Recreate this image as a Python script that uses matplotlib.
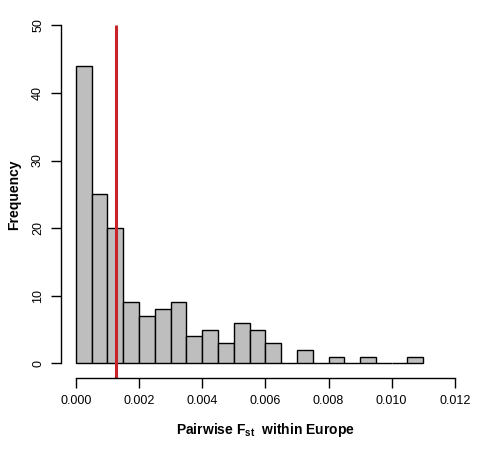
import numpy as np
import matplotlib
matplotlib.use('Agg')
import matplotlib.pyplot as plt

plt.rcParams['font.family'] = 'Liberation Sans'
plt.rcParams['mathtext.fontset'] = 'custom'
plt.rcParams['mathtext.bf'] = 'Liberation Sans:bold'
plt.rcParams['mathtext.rm'] = 'Liberation Sans'

# histogram of pairwise Fst, bins of 0.0005
bin_edges = np.arange(0, 0.0110001, 0.0005)
counts = [44, 25, 20, 9, 7, 8, 9, 4, 5, 3, 6, 5, 3, 0, 2, 0, 1, 0, 1, 0, 0, 1]
mean_fst = 0.00128
x_ticks = [0.000, 0.002, 0.004, 0.006, 0.008, 0.010, 0.012]
y_ticks = [0, 10, 20, 30, 40, 50]

fig = plt.figure(figsize=(4.86, 4.51), dpi=100)
W, H = 486, 451
# plot region in pixels
left, right, top, bottom = 60.7, 470.0, 10.7, 378.0
ax = fig.add_axes([left / W, 1 - bottom / H, (right - left) / W, (bottom - top) / H])

ax.hist(bin_edges[:-1], bins=bin_edges, weights=counts,
        color='#bebebe', edgecolor='black', linewidth=1.0)

ax.set_xlim(-0.00048, 0.01248)
ax.set_ylim(-2.17, 52.17)

ax.plot([mean_fst, mean_fst], [-2.17, 50], color='#c8242a', lw=2.2,
        clip_on=False, solid_capstyle='butt')

for s in ['top', 'right']:
    ax.spines[s].set_visible(False)
ax.spines['left'].set_bounds(0, 50)
ax.spines['bottom'].set_bounds(0, 0.012)
ax.spines['left'].set_linewidth(1.0)
ax.spines['bottom'].set_linewidth(1.0)

ax.set_xticks(x_ticks)
ax.set_xticklabels([f"{v:.3f}" for v in x_ticks])
ax.set_yticks(y_ticks)
ax.set_yticklabels([str(v) for v in y_ticks], rotation=90, va='center')
ax.tick_params(axis='both', length=7, width=1.0, labelsize=9, direction='out')
ax.tick_params(axis='x', pad=5)
ax.tick_params(axis='y', pad=5)

ax.set_xlabel(r"Pairwise F$_{\mathbf{st}}$  within Europe", fontsize=10,
              fontweight='bold', labelpad=10)
ax.set_ylabel("Frequency", fontsize=10, fontweight='bold', labelpad=8)

fig.savefig('out.png', dpi=100)
